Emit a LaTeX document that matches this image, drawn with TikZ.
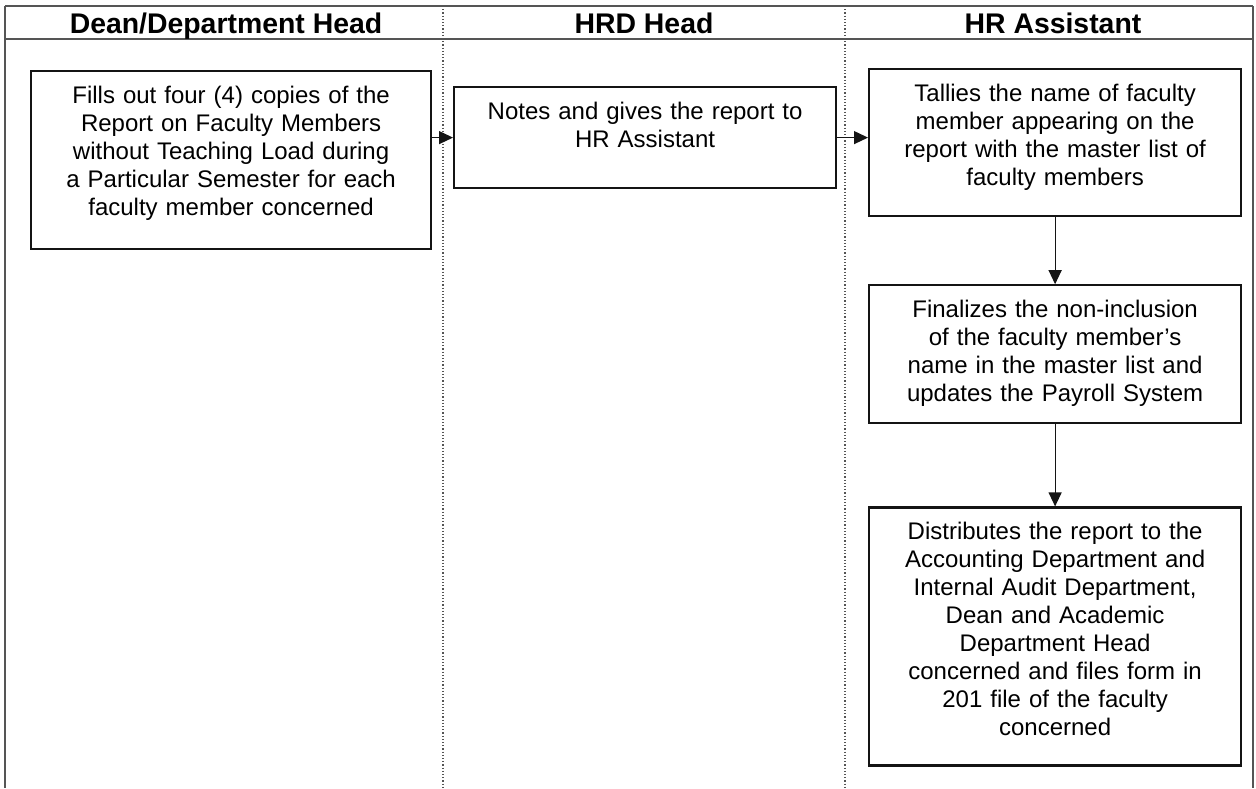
\documentclass[tikz,border=0pt]{standalone}
\usepackage{fontspec}
\setmainfont{Liberation Sans}
\usetikzlibrary{positioning,arrows.meta}
\definecolor{ink}{RGB}{20,20,20}
\definecolor{laneline}{RGB}{85,85,85}
\tikzset{
  stepbox/.style={draw=ink, line width=1.1pt, align=center, anchor=north west,
                  font=\fontsize{12}{14}\selectfont, inner xsep=4pt, inner ysep=0pt,
                  text height=16pt},
  hdr/.style   ={font=\fontsize{14.2}{16}\selectfont\bfseries, anchor=base},
  ar/.style    ={-{Triangle[length=7pt,width=6.5pt]}, draw=ink, line width=0.6pt},
  lane/.style  ={draw=laneline, line width=0.6pt},
  divider/.style={draw=laneline, densely dotted, line width=0.6pt},
}
\begin{document}
\begin{tikzpicture}[x=0.5pt,y=-0.5pt]
\useasboundingbox (0,0) rectangle (1256,788);
% swimlane frame
\draw[lane] (5,6) -- (1253,6);
\draw[lane] (5,39) -- (1253,39);
\draw[lane,line width=0.9pt] (5,6) -- (5,788);
\draw[lane,line width=0.9pt] (1253,6) -- (1253,788);
\draw[divider] (443,6) -- (443,788);
\draw[divider] (845,6) -- (845,788);

\node[hdr] (hdean) at (226,33) {Dean/Department Head};
\node[hdr] (hhrd) at (644,33) {HRD Head};
\node[hdr] (hasst) at (1053,33) {HR Assistant};

% steps
\node[stepbox,text width=192pt,text depth=73pt] (fill) at (30,70)
  {Fills out four (4) copies of the\\ Report on Faculty Members\\ without Teaching Load during\\ a Particular Semester for each\\ faculty member concerned};
\node[stepbox,text width=183pt,text depth=34.5pt] (note) at (453,86)
  {Notes and gives the report to\\ HR Assistant};
\node[stepbox,text width=178pt,text depth=57.5pt] (tally) at (868,68)
  {Tallies the name of faculty\\ member appearing on the\\ report with the master list of\\ faculty members};
\node[stepbox,text width=178pt,text depth=53pt,below=33.5pt of tally] (final)
  {Finalizes the non-inclusion\\ of the faculty member's\\ name in the master list and\\ updates the Payroll System};
\node[stepbox,text width=178pt,text depth=113pt,below=41pt of final] (dist)
  {Distributes the report to the\\ Accounting Department and\\ Internal Audit Department,\\ Dean and Academic\\ Department Head\\ concerned and files form in\\ 201 file of the faculty\\ concerned};

\draw[ar] (fill.east |- note.west) -- (note.west);
\draw[ar] (note.east) -- (note.east -| tally.west);
\draw[ar] (tally) -- (final);
\draw[ar] (final) -- (dist);
\end{tikzpicture}
\end{document}
